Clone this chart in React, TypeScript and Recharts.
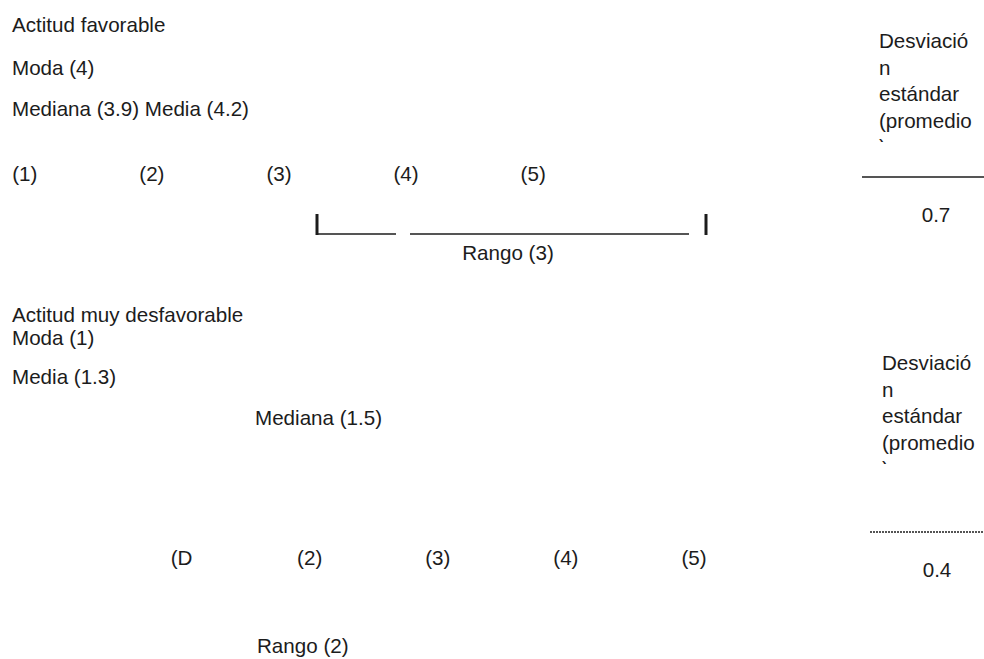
import React from 'react';
import { ComposedChart, XAxis, YAxis, Scatter, ReferenceLine } from 'recharts';

// scale points and their printed labels
const scaleValues = [1, 2, 3, 4, 5];
const topScaleLabels = ['(1)', '(2)', '(3)', '(4)', '(5)'];
const bottomScaleLabels = ['(D', '(2)', '(3)', '(4)', '(5)'];

// favorable attitude summary
const favorableTitle = 'Actitud favorable';
const favorableModa = 4;
const favorableMediana = 3.9;
const favorableMedia = 4.2;
const favorableRango = 3;
const favorableDesviacion = 0.7;

// very unfavorable attitude summary
const unfavorableTitle = 'Actitud muy desfavorable';
const unfavorableModa = 1;
const unfavorableMedia = 1.3;
const unfavorableMediana = 1.5;
const unfavorableRango = 2;
const unfavorableDesviacion = 0.4;

const desviacionLines = ['Desviació', 'n', 'estándar', '(promedio', ')'];

const W = 984;
const H = 659;
const FONT = '"Liberation Sans", Arial, sans-serif';
const FONT_SIZE = 20.6;
const INK = '#1c1c1c';

// pixel position of scale point 3 and the step between points, per row
const TOP_CENTER = 279;
const TOP_STEP = 127.1;
const BOTTOM_CENTER = 437.8;
const BOTTOM_STEP = 128.1;
const scaleDomain = (center: number, step: number): [number, number] => {
  const span = W / step;
  const a = 3 - center / step;
  return [a, a + span];
};

const LINE_H = 26.5;

type Label = { x: number; y: number; text: string; anchor?: string; clip?: number };

const labels: Label[] = [
  { x: 12, y: 32, text: favorableTitle },
  { x: 12, y: 75, text: `Moda (${favorableModa})` },
  { x: 12, y: 116, text: `Mediana (${favorableMediana}) Media (${favorableMedia})` },
  { x: 508, y: 260, text: `Rango (${favorableRango})`, anchor: 'middle' },
  { x: 936, y: 222, text: `${favorableDesviacion}`, anchor: 'middle' },
  { x: 12, y: 322, text: unfavorableTitle },
  { x: 12, y: 345, text: `Moda (${unfavorableModa})` },
  { x: 12, y: 384, text: `Media (${unfavorableMedia})` },
  { x: 255, y: 425, text: `Mediana (${unfavorableMediana})` },
  { x: 257, y: 653, text: `Rango (${unfavorableRango})` },
  { x: 937, y: 577, text: `${unfavorableDesviacion}`, anchor: 'middle' },
  ...desviacionLines.map((t, i) => ({
    x: 879,
    y: 48 + i * LINE_H,
    text: t,
    clip: i === desviacionLines.length - 1 ? 142 : undefined,
  })),
  ...desviacionLines.map((t, i) => ({
    x: 882,
    y: 370 + i * LINE_H,
    text: t,
    clip: i === desviacionLines.length - 1 ? 464 : undefined,
  })),
];

const topScale = scaleValues.map((v, i) => ({ v, y: 181, text: topScaleLabels[i], anchor: 'middle' }));
const bottomScale = scaleValues.map((v, i) => ({ v, y: 565, text: bottomScaleLabels[i], anchor: 'middle' }));

let clipSeq = 0;
function TextMark(props: any) {
  const { cx, cy, payload } = props;
  const text = (
    <text
      x={cx}
      y={cy}
      textAnchor={payload.anchor ?? 'start'}
      fontSize={FONT_SIZE}
      fontFamily={FONT}
      fill={INK}
    >
      {payload.text}
    </text>
  );
  if (payload.clip == null) return text;
  const id = `clip-${clipSeq++}`;
  return (
    <g>
      <defs>
        <clipPath id={id}>
          <rect x={cx - 10} y={0} width={60} height={payload.clip} />
        </clipPath>
      </defs>
      <g clipPath={`url(#${id})`}>{text}</g>
    </g>
  );
}

const lineProps = { xAxisId: 'px', yAxisId: 'px', stroke: INK, ifOverflow: 'visible' as const };

export default function App() {
  return (
    <div style={{ position: 'absolute', left: 0, top: 0, width: W, height: H, background: '#fff' }}>
      <ComposedChart width={W} height={H} margin={{ top: 0, right: 0, bottom: 0, left: 0 }}>
        <XAxis xAxisId="px" dataKey="x" type="number" domain={[0, W]} allowDataOverflow hide />
        <XAxis xAxisId="top" dataKey="v" type="number" domain={scaleDomain(TOP_CENTER, TOP_STEP)} allowDataOverflow hide />
        <XAxis xAxisId="bottom" dataKey="v" type="number" domain={scaleDomain(BOTTOM_CENTER, BOTTOM_STEP)} allowDataOverflow hide />
        <YAxis yAxisId="px" dataKey="y" type="number" domain={[0, H]} reversed allowDataOverflow hide />

        <Scatter xAxisId="px" yAxisId="px" data={labels} shape={TextMark} isAnimationActive={false} />
        <Scatter xAxisId="top" yAxisId="px" data={topScale} shape={TextMark} isAnimationActive={false} />
        <Scatter xAxisId="bottom" yAxisId="px" data={bottomScale} shape={TextMark} isAnimationActive={false} />

        {/* range bracket, favorable */}
        <ReferenceLine {...lineProps} strokeWidth={3} segment={[{ x: 317, y: 214 }, { x: 317, y: 235 }]} />
        <ReferenceLine {...lineProps} strokeWidth={1.5} segment={[{ x: 318, y: 234 }, { x: 396, y: 234 }]} />
        <ReferenceLine {...lineProps} strokeWidth={1.5} segment={[{ x: 410, y: 234 }, { x: 689, y: 234 }]} />
        <ReferenceLine {...lineProps} strokeWidth={3} segment={[{ x: 706, y: 214 }, { x: 706, y: 235 }]} />

        {/* desviación rules */}
        <ReferenceLine {...lineProps} strokeWidth={1.5} segment={[{ x: 862, y: 177 }, { x: W, y: 177 }]} />
        <ReferenceLine {...lineProps} strokeWidth={1.5} strokeDasharray="2 1" segment={[{ x: 870, y: 532 }, { x: W, y: 532 }]} />
      </ComposedChart>
    </div>
  );
}
